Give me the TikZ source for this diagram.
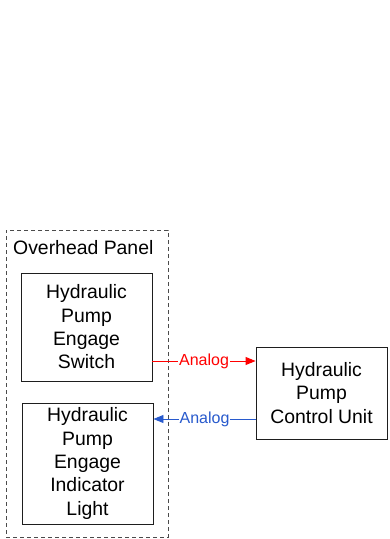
\documentclass[tikz,border=0pt]{standalone}
\usepackage{fontspec}
\setmainfont{Liberation Sans}
\usetikzlibrary{arrows.meta}
\definecolor{sigred}{RGB}{255,0,0}
\definecolor{sigblue}{RGB}{40,90,205}
\definecolor{edge}{RGB}{30,30,30}
\tikzset{
  unitbox/.style={draw=edge, line width=0.9pt, rectangle, align=center, inner sep=0pt,
    font=\fontsize{19.4}{23.3}\selectfont},
  panelbox/.style={draw=edge!80, line width=0.9pt, dash pattern=on 4pt off 3pt, rectangle, inner sep=0pt},
  sig/.style={line width=0.9pt, -{Triangle[length=10pt,width=8pt]}},
  siglabel/.style={fill=white, inner sep=1pt, font=\fontsize{16}{18}\selectfont}
}
\begin{document}
\begin{tikzpicture}[x=1pt,y=-1pt]
\useasboundingbox (0,0) rectangle (390,539);
\node[panelbox, minimum width=162pt, minimum height=307pt] (panel) at (87,383.5) {};
\node[anchor=base west, inner sep=0pt, font=\fontsize{19.4}{23.3}\selectfont] (ptitle) at (13,254) {Overhead Panel};
\node[unitbox, minimum width=131pt, minimum height=108pt] (switch) at (86.5,327) {Hydraulic\\Pump\\Engage\\Switch};
\node[unitbox, minimum width=131pt, minimum height=121pt] (light) at (87.5,463.5) {Hydraulic\\Pump\\Engage\\Indicator\\Light};
\node[unitbox, minimum width=131pt, minimum height=92pt] (ctrl) at (321.5,393) {Hydraulic\\Pump\\Control Unit};
\coordinate (ya) at (0,361);
\coordinate (yb) at (0,419);
\draw[sig, draw=sigred, fill=sigred] (switch.east |- ya) -- node[siglabel, text=sigred] (la) {Analog} (ctrl.west |- ya);
\draw[sig, draw=sigblue, fill=sigblue] (ctrl.west |- yb) -- node[siglabel, text=sigblue] (lb) {Analog} (light.east |- yb);
\end{tikzpicture}
\end{document}
